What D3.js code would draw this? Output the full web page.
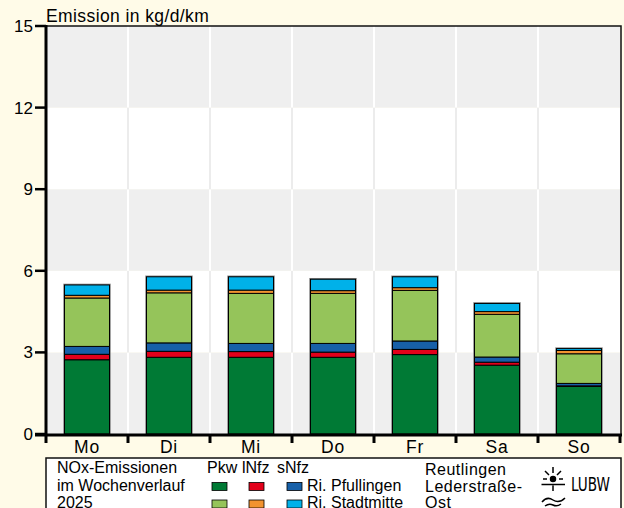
<!DOCTYPE html>
<html>
<head>
<meta charset="utf-8">
<script src="https://cdn.jsdelivr.net/npm/d3@7"></script>
<style>
    body { margin: 0; background: #fffbe8; }
    svg { display: block; font-family: "Liberation Sans", Arial, sans-serif; }
</style>
</head>
<body>
<div id="chart"></div>
<script>
// Werte in kg/d/km, von unten nach oben gestapelt
let days = ["Mo", "Di", "Mi", "Do", "Fr", "Sa", "So"];
let pkwPfullingen  = [2.73, 2.82, 2.82, 2.82, 2.92, 2.53, 1.75];
let lnfzPfullingen = [0.20, 0.22, 0.21, 0.19, 0.19, 0.11, 0.02];
let snfzPfullingen = [0.29, 0.31, 0.30, 0.32, 0.31, 0.19, 0.09];
let pkwStadtmitte  = [1.78, 1.84, 1.84, 1.84, 1.86, 1.57, 1.09];
let lnfzStadtmitte = [0.10, 0.10, 0.12, 0.10, 0.10, 0.10, 0.12];
let snfzStadtmitte = [0.38, 0.49, 0.49, 0.42, 0.40, 0.30, 0.07];
let yTicks = [0, 3, 6, 9, 12, 15];

let keys = ["pkwP", "lnfzP", "snfzP", "pkwS", "lnfzS", "snfzS"];
let colors = {
    pkwP: "#007a35", lnfzP: "#e2001a", snfzP: "#1760a8",
    pkwS: "#95c45a", lnfzS: "#f29330", snfzS: "#00b1e9"
};

class StackVis {

    constructor(_parentElement) {
        this.parentElement = _parentElement;
        this.initVis();
    }

    initVis() {
        let vis = this;

        vis.width = 624;
        vis.height = 508;
        vis.plot = {left: 46, right: 620, top: 26, bottom: 434};

        vis.svg = d3.select("#" + vis.parentElement).append("svg")
            .attr("width", vis.width)
            .attr("height", vis.height);

        vis.xScale = d3.scaleBand()
            .domain(days)
            .range([vis.plot.left, vis.plot.right]);

        vis.yScale = d3.scaleLinear()
            .domain([0, 15])
            .range([vis.plot.bottom, vis.plot.top]);

        vis.wrangleData();
    }

    wrangleData() {
        let vis = this;

        vis.rows = days.map((d, i) => ({
            day: d,
            pkwP: pkwPfullingen[i], lnfzP: lnfzPfullingen[i], snfzP: snfzPfullingen[i],
            pkwS: pkwStadtmitte[i], lnfzS: lnfzStadtmitte[i], snfzS: snfzStadtmitte[i]
        }));
        vis.series = d3.stack().keys(keys)(vis.rows);
        vis.updateVis();
    }

    updateVis() {
        let vis = this;
        let p = vis.plot;

        // Hintergrundbänder, grau/weiß im Wechsel
        for (let i = 0; i < yTicks.length - 1; i++) {
            let gray = i % 2 === 0;
            vis.svg.append("rect")
                .attr("x", p.left)
                .attr("y", vis.yScale(yTicks[i + 1]))
                .attr("width", p.right - p.left)
                .attr("height", vis.yScale(yTicks[i]) - vis.yScale(yTicks[i + 1]))
                .attr("fill", gray ? "#efefef" : "#ffffff");

            days.slice(1).forEach(d => {
                vis.svg.append("line")
                    .attr("x1", vis.xScale(d))
                    .attr("x2", vis.xScale(d))
                    .attr("y1", vis.yScale(yTicks[i + 1]))
                    .attr("y2", vis.yScale(yTicks[i]))
                    .attr("stroke", gray ? "#ffffff" : "#ececec")
                    .attr("stroke-width", 2);
            });
        }

        // Rahmen oben und rechts
        vis.svg.append("path")
            .attr("d", `M${p.left},${p.top}H${p.right + 1}V${p.bottom}`)
            .attr("fill", "none")
            .attr("stroke", "#111")
            .attr("stroke-width", 1.5);

        // Balken
        let bw = 45;
        let bx = d => vis.xScale(d) + (vis.xScale.bandwidth() - bw) / 2;

        vis.rows.forEach((r, i) => {
            let total = keys.reduce((s, k) => s + r[k], 0);
            vis.svg.append("rect")
                .attr("x", bx(r.day))
                .attr("y", vis.yScale(total))
                .attr("width", bw)
                .attr("height", vis.yScale(0) - vis.yScale(total))
                .attr("fill", "none")
                .attr("stroke", "#888")
                .attr("stroke-width", 2.5);
        });

        vis.svg.selectAll(".layer")
            .data(vis.series)
            .join("g")
            .attr("class", "layer")
            .attr("fill", d => colors[d.key])
            .selectAll("rect")
            .data(d => d)
            .join("rect")
            .attr("x", d => bx(d.data.day))
            .attr("y", d => vis.yScale(d[1]))
            .attr("width", bw)
            .attr("height", d => vis.yScale(d[0]) - vis.yScale(d[1]))
            .attr("stroke", "#000")
            .attr("stroke-width", 1);

        // y-Achse
        vis.svg.append("line")
            .attr("x1", p.left).attr("x2", p.left)
            .attr("y1", p.top - 1).attr("y2", p.bottom)
            .attr("stroke", "#000").attr("stroke-width", 3);

        yTicks.forEach(t => {
            vis.svg.append("line")
                .attr("x1", 35).attr("x2", p.left)
                .attr("y1", vis.yScale(t)).attr("y2", vis.yScale(t))
                .attr("stroke", "#000").attr("stroke-width", 2.5);
            vis.svg.append("text")
                .attr("x", 33)
                .attr("y", vis.yScale(t) + 6)
                .attr("text-anchor", "end")
                .attr("font-size", 17)
                .text(t);
        });

        // x-Achse
        vis.svg.append("line")
            .attr("x1", 35).attr("x2", p.right + 2)
            .attr("y1", p.bottom + 1).attr("y2", p.bottom + 1)
            .attr("stroke", "#000").attr("stroke-width", 3);

        days.concat(["end"]).forEach((d, i) => {
            let x = i < days.length ? vis.xScale(d) : p.right;
            vis.svg.append("line")
                .attr("x1", x).attr("x2", x)
                .attr("y1", p.bottom).attr("y2", p.bottom + 9)
                .attr("stroke", "#000").attr("stroke-width", 3);
        });

        days.forEach(d => {
            vis.svg.append("text")
                .attr("x", vis.xScale(d) + vis.xScale.bandwidth() / 2)
                .attr("y", 453)
                .attr("text-anchor", "middle")
                .attr("font-size", 17.5)
                .attr("letter-spacing", 0.8)
                .text(d);
        });

        // Titel
        vis.svg.append("text")
            .attr("x", 46)
            .attr("y", 22)
            .attr("font-size", 17.5)
            .attr("letter-spacing", 0.4)
            .text("Emission in kg/d/km");

        vis.drawLegend();
    }

    drawLegend() {
        let vis = this;
        let lg = vis.svg.append("g").attr("font-size", 16);

        lg.append("rect")
            .attr("x", 46).attr("y", 458)
            .attr("width", 575).attr("height", 60)
            .attr("fill", "#fff")
            .attr("stroke", "#111").attr("stroke-width", 1.5);

        ["NOx-Emissionen", "im Wochenverlauf", "2025"].forEach((t, i) => {
            lg.append("text").attr("x", 57).attr("y", 473 + i * 17.5).text(t);
        });

        [["Pkw", 207], ["lNfz", 242], ["sNfz", 277]].forEach(([t, x]) => {
            lg.append("text").attr("x", x).attr("y", 473).text(t);
        });

        let sq = [[212, 249, 287], ["pkwP", "lnfzP", "snfzP"], ["pkwS", "lnfzS", "snfzS"]];
        [sq[1], sq[2]].forEach((row, r) => {
            row.forEach((k, j) => {
                lg.append("rect")
                    .attr("x", sq[0][j]).attr("y", 482.5 + r * 17.5)
                    .attr("width", 15).attr("height", 8)
                    .attr("fill", colors[k])
                    .attr("stroke", "#000").attr("stroke-width", 0.8);
            });
        });
        lg.append("text").attr("x", 307).attr("y", 490.5).text("Ri. Pfullingen");
        lg.append("text").attr("x", 307).attr("y", 508).text("Ri. Stadtmitte");

        ["Reutlingen", "Lederstraße-", "Ost"].forEach((t, i) => {
            lg.append("text").attr("x", 425).attr("y", 475 + i * 16.5)
                .attr("letter-spacing", 0.5).text(t);
        });

        // LUBW-Logo, grob nachgezeichnet
        let logo = vis.svg.append("g").attr("stroke", "#000").attr("fill", "none").attr("stroke-width", 1.5);
        logo.append("path").attr("d",
            "M553,467V473 M545,471L549,475 M561,471L557,475 M543,479H547 M559,479H563" +
            " M541.5,484.5H565 M553,485.5V491");
        logo.append("circle").attr("cx", 553).attr("cy", 479).attr("r", 2.5).attr("fill", "#000");
        logo.append("path").attr("d", "M542,502Q547,496 553,500T565,498 M545,506Q549,503 553,505T561,504");
        vis.svg.append("text")
            .attr("x", 571).attr("y", 491)
            .attr("font-family", "'Liberation Sans Narrow', 'DejaVu Sans Condensed', sans-serif")
            .attr("font-size", 19)
            .attr("textLength", 39)
            .attr("lengthAdjust", "spacingAndGlyphs")
            .text("LUBW");
    }
}

new StackVis("chart");
</script>
</body>
</html>
